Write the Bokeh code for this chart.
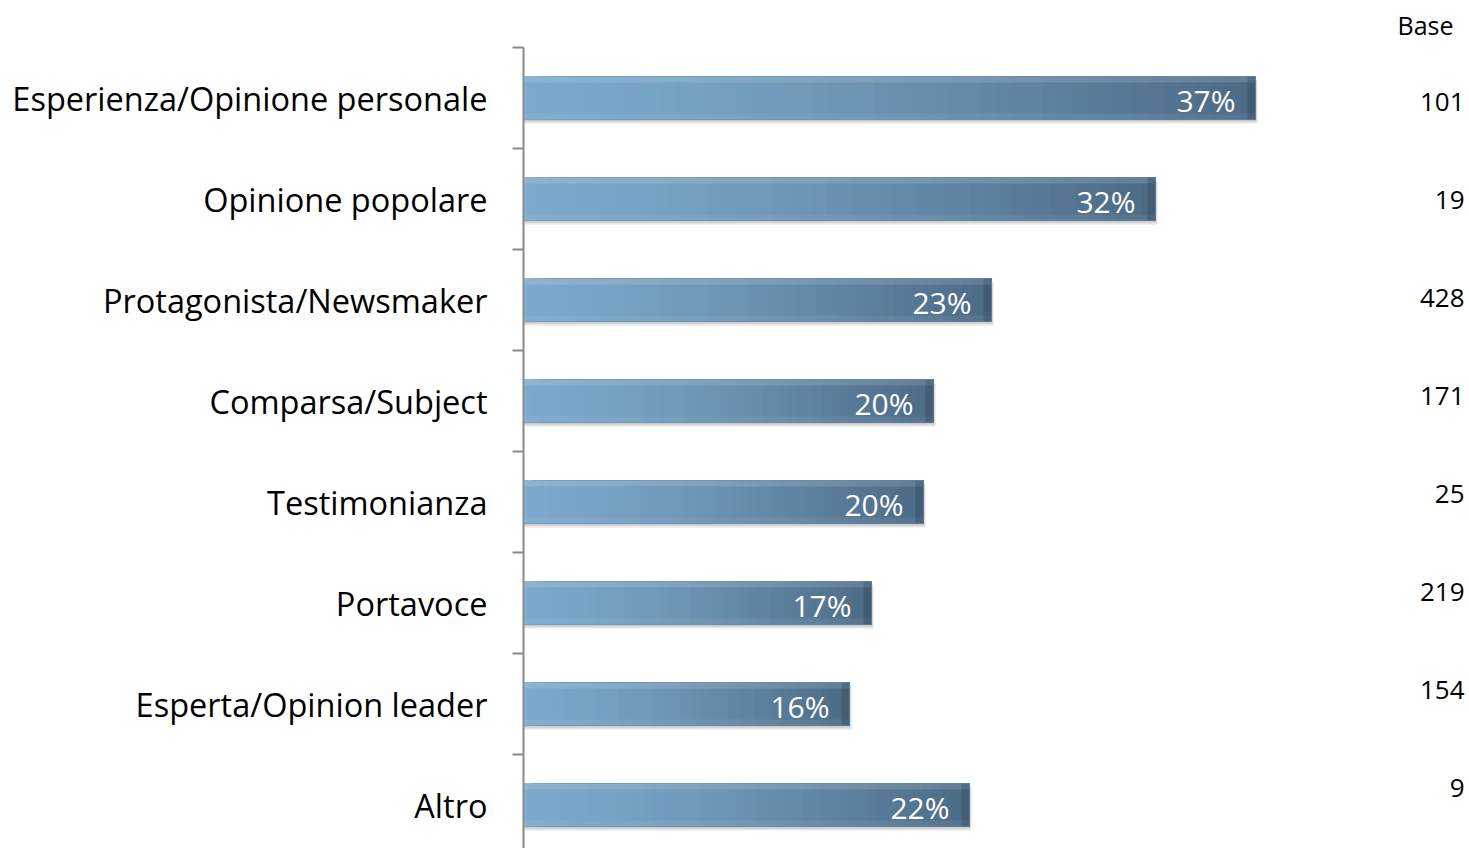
from bokeh.plotting import figure
from bokeh.models import Range1d, FixedTicker, ColumnDataSource
from bokeh.core.properties import value
from bokeh.embed import file_html
from bokeh.resources import INLINE

# ---- data ----
categories = ["Esperienza/Opinione personale", "Opinione popolare", "Protagonista/Newsmaker",
              "Comparsa/Subject", "Testimonianza", "Portavoce", "Esperta/Opinion leader", "Altro"]
shares = [36.6, 31.6, 23.4, 20.5, 20.0, 17.4, 16.3, 22.3]
share_labels = ["37%", "32%", "23%", "20%", "20%", "17%", "16%", "22%"]
bases = ["101", "19", "428", "171", "25", "219", "154", "9"]
base_header = "Base"

# ---- layout constants ----
W, H = 1469, 848
LEFT = 523
TOP = 47
PX_X = 20.0      # px per percentage point
PX_Y = 101.0     # px per category
n = len(categories)
y_top = n + TOP / PX_Y
y_bot = n - (H - TOP) / PX_Y
centers = [n - i - 0.5 for i in range(n)]
bar_h = 43 / PX_Y
FONT = "Open Sans"

p = figure(width=W, height=H, output_backend="svg", toolbar_location=None,
           x_range=Range1d(0, (W - LEFT) / PX_X), y_range=Range1d(y_bot, y_top),
           min_border_left=LEFT, min_border_right=0, min_border_top=0, min_border_bottom=0,
           x_axis_location=None)
p.outline_line_color = None
p.xgrid.visible = False
p.ygrid.visible = False
p.background_fill_color = "white"

# y axis: ticks at category boundaries (minor), labels at centres
ax = p.yaxis[0]
ax.ticker = FixedTicker(ticks=centers, minor_ticks=list(range(0, n + 1)))
ax.major_label_overrides = {c: lab for c, lab in zip(centers, categories)}
ax.bounds = (0, n)
ax.axis_line_color = "#8a8a8a"
ax.axis_line_width = 2
ax.major_tick_line_color = None
ax.major_tick_out = 0
ax.major_tick_in = 0
ax.minor_tick_line_color = "#8a8a8a"
ax.minor_tick_line_width = 2
ax.minor_tick_out = 11
ax.minor_tick_in = 0
ax.major_label_standoff = 25
ax.major_label_text_font = FONT
ax.major_label_text_font_size = "32.5px"
ax.major_label_text_color = "#000000"

# ---- shadows ----
sh = dict(left=[0.0] * n,
          right=[v + 2 / PX_X for v in shares],
          bottom=[c - bar_h / 2 - 4 / PX_Y for c in centers],
          top=[c + bar_h / 2 - 4 / PX_Y for c in centers])
p.quad(source=ColumnDataSource(sh), left="left", right="right", bottom="bottom", top="top",
       fill_color="#000000", fill_alpha=0.10, line_color=None)
sh2 = dict(left=[0.0] * n,
           right=[v + 1 / PX_X for v in shares],
           bottom=[c - bar_h / 2 - 2 / PX_Y for c in centers],
           top=[c + bar_h / 2 - 2 / PX_Y for c in centers])
p.quad(source=ColumnDataSource(sh2), left="left", right="right", bottom="bottom", top="top",
       fill_color="#000000", fill_alpha=0.12, line_color=None)

# ---- gradient bars (each slice runs to the bar end, later slices cover earlier ones) ----
c0 = (123, 168, 203)
c1 = (76, 106, 133)
N = 48
L, R, B, T, C = [], [], [], [], []
for v, c in zip(shares, centers):
    for k in range(N):
        t = (k + 0.5) / N
        te = t ** 1.4
        col = tuple(int(round(a + (b - a) * te)) for a, b in zip(c0, c1))
        L.append(v * k / N)
        R.append(v)
        B.append(c - bar_h / 2)
        T.append(c + bar_h / 2)
        C.append("#%02x%02x%02x" % col)
p.quad(source=ColumnDataSource(dict(left=L, right=R, bottom=B, top=T, color=C)),
       left="left", right="right", bottom="bottom", top="top",
       fill_color="color", line_color=None)

# bevels
bev = 6 / PX_Y
top_b = dict(left=[0.0] * n, right=shares,
             bottom=[c + bar_h / 2 - bev for c in centers], top=[c + bar_h / 2 for c in centers])
p.quad(source=ColumnDataSource(top_b), left="left", right="right", bottom="bottom", top="top",
       fill_color="#ffffff", fill_alpha=0.13, line_color=None)
bot_b = dict(left=[0.0] * n, right=shares,
             bottom=[c - bar_h / 2 for c in centers], top=[c - bar_h / 2 + bev for c in centers])
p.quad(source=ColumnDataSource(bot_b), left="left", right="right", bottom="bottom", top="top",
       fill_color="#ffffff", fill_alpha=0.06, line_color=None)
right_b = dict(left=[v - 8 / PX_X for v in shares], right=shares,
               bottom=[c - bar_h / 2 for c in centers], top=[c + bar_h / 2 for c in centers])
p.quad(source=ColumnDataSource(right_b), left="left", right="right", bottom="bottom", top="top",
       fill_color="#1a2c3a", fill_alpha=0.22, line_color=None)
left_b = dict(left=[0.0] * n, right=[3 / PX_X] * n,
              bottom=[c - bar_h / 2 for c in centers], top=[c + bar_h / 2 for c in centers])
p.quad(source=ColumnDataSource(left_b), left="left", right="right", bottom="bottom", top="top",
       fill_color="#ffffff", fill_alpha=0.10, line_color=None)
# thin outline
p.quad(left=[0.0] * n, right=shares, bottom=[c - bar_h / 2 for c in centers],
       top=[c + bar_h / 2 for c in centers], fill_color=None, line_color="#6d8fab", line_alpha=0.5,
       line_width=1)

# value labels inside bars
p.text(x=shares, y=[c - 2 / PX_Y for c in centers], text=share_labels, x_offset=-20,
       text_align="right", text_baseline="middle", text_color="white",
       text_font=value(FONT), text_font_size="30px")

# base column
x_end = (W - LEFT) / PX_X
base_y0 = n - (101 - TOP) / PX_Y
base_y = [base_y0 - i * 98 / PX_Y for i in range(n)]
p.text(x=[x_end] * n, y=base_y, text=bases, x_offset=-5, text_align="right", text_baseline="middle",
       text_color="black", text_font=value(FONT), text_font_size="26px")
p.text(x=[x_end], y=[n + (TOP - 24) / PX_Y], text=[base_header], x_offset=-16, text_align="right",
       text_baseline="middle", text_color="black", text_font=value(FONT), text_font_size="25px")

open("out.html", "w").write(file_html(p, INLINE))
